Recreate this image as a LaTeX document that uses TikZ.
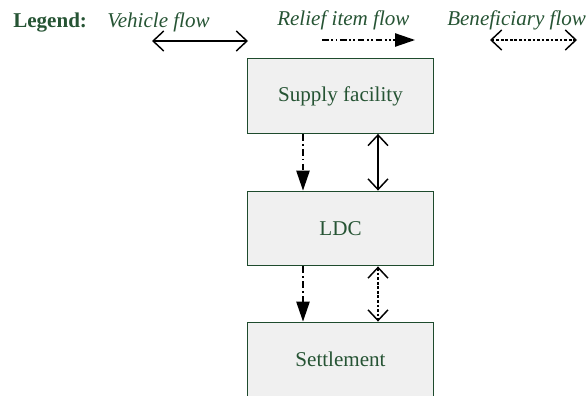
\documentclass[tikz,border=0pt]{standalone}
\usepackage{fontspec}
\setmainfont{Liberation Serif}
\usetikzlibrary{arrows.meta}
\definecolor{txtgreen}{RGB}{38,84,52}
\definecolor{boxline}{RGB}{30,75,45}
\definecolor{boxfill}{RGB}{240,240,240}
\tikzset{
  openhead/.tip={Straight Barb[length=8pt,width=15pt,line width=1.1pt]},
  flowbox/.style={draw=boxline, line width=0.9pt, fill=boxfill, rectangle,
    minimum width=140pt, minimum height=56pt, inner sep=0pt,
    text=txtgreen, font=\fontsize{15.8}{19}\selectfont},
  legtext/.style={anchor=base west, inner sep=0pt, text=txtgreen,
    font=\fontsize{15.8}{19}\selectfont\itshape},
  vehicle/.style={line width=1.1pt, openhead-openhead},
  relief/.style={line width=1.1pt, dash pattern=on 5pt off 2.5pt on 1.2pt off 2.5pt,
    -{Triangle[length=15pt,width=10pt]}},
  reliefkey/.style={relief, dash pattern=on 5pt off 2pt on 1.2pt off 2pt on 1.2pt off 2pt},
  beneficiary/.style={line width=1.1pt, dash pattern=on 2pt off 1.4pt,
    openhead-openhead},
}
\begin{document}
\begin{tikzpicture}[x=0.75pt, y=-0.75pt]
\useasboundingbox (0,0) rectangle (587,396);
\clip (0,0) rectangle (587,396);

% legend
\node[legtext, font=\fontsize{15.8}{19}\selectfont\bfseries] (leg) at (13,27) {Legend:};
\node[legtext] (vlab) at (107,27) {Vehicle flow};
\node[legtext] (rlab) at (277,26) {Relief item flow};
\node[legtext] (blab) at (447,26) {Beneficiary flow};

\coordinate (v1) at (152,41);
\coordinate (v2) at (248,41);
\coordinate (r1) at (322,40);
\coordinate (r2) at (415,40);
\coordinate (b1) at (490,40);
\coordinate (b2) at (577,40);
\draw[vehicle] (v1) -- (v2);
\draw[reliefkey] (r1) -- (r2);
\draw[beneficiary] (b1) -- (b2);

% facilities
\node[flowbox] (supply) at (340.5,96) {Supply facility};
\node[flowbox] (ldc) at (340.5,228.5) {LDC};
\node[flowbox] (settle) at (340.5,359.5) {Settlement};

% flows between facilities
\draw[relief] (supply.south -| 303,0) -- (ldc.north -| 303,0);
\draw[vehicle] (supply.south -| 378,0) -- (ldc.north -| 378,0);
\draw[relief] (ldc.south -| 303,0) -- (settle.north -| 303,0);
\draw[beneficiary] (ldc.south -| 378,0) -- (settle.north -| 378,0);
\end{tikzpicture}
\end{document}
